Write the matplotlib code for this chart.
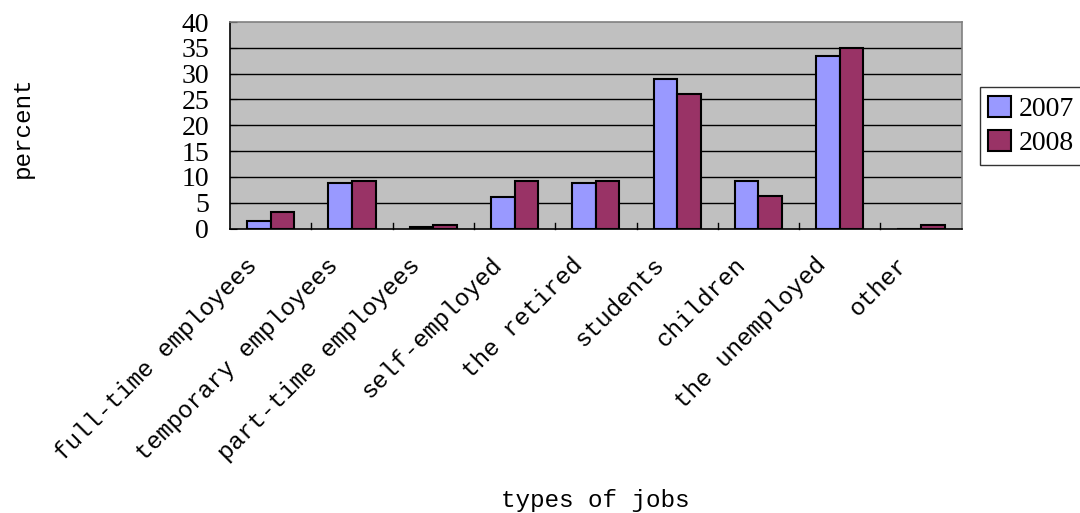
import matplotlib
matplotlib.use("Agg")
import matplotlib.pyplot as plt
import matplotlib.transforms as mtransforms
import numpy as np

categories = ["full-time employees", "temporary employees", "part-time employees",
              "self-employed", "the retired", "students", "children",
              "the unemployed", "other"]
values_2007 = [1.4, 8.9, 0.3, 6.1, 8.9, 28.9, 9.2, 33.5, 0.0]
values_2008 = [3.2, 9.2, 0.6, 9.2, 9.2, 26.1, 6.3, 35.0, 0.6]
series_labels = ["2007", "2008"]
yticks = [0, 5, 10, 15, 20, 25, 30, 35, 40]

fig = plt.figure(figsize=(10.8, 5.13), dpi=100)
ax = fig.add_axes([230/1080, 1-228.5/513, (961.7-230)/1080, (228.5-22)/513])
ax.set_facecolor("#C0C0C0")

x = np.arange(len(categories))
w = 0.29
ax.bar(x - w/2, values_2007, w, color="#9999FF", edgecolor="black", linewidth=1.5,
       label=series_labels[0], zorder=3)
ax.bar(x + w/2, values_2008, w, color="#993366", edgecolor="black", linewidth=1.5,
       label=series_labels[1], zorder=3)

ax.set_xlim(-0.5, len(categories) - 0.5)
ax.set_ylim(0, 40)
ax.set_yticks(yticks)
ax.set_yticklabels([str(v) for v in yticks], family="Liberation Serif", fontsize=20)
for v in yticks[1:-1]:
    ax.axhline(v, color="black", linewidth=1.0, zorder=1)

ax.set_xticks(x)
ax.set_xticklabels(categories, rotation=45, ha="right", rotation_mode="anchor",
                   family="Liberation Mono", fontsize=17.5)
ax.tick_params(axis="x", length=0, pad=18)
ax.tick_params(axis="y", direction="in", length=5, pad=15)
shift = mtransforms.ScaledTranslation(-25/100, 0, fig.dpi_scale_trans)
for lab in ax.get_xticklabels():
    lab.set_transform(lab.get_transform() + shift)
for b in np.arange(0.5, len(categories) - 0.5, 1.0):
    ax.plot([b, b], [0, 1.0], color="black", linewidth=1.0, zorder=2, clip_on=False)

for s in ["top", "right"]:
    ax.spines[s].set_color("#808080")
    ax.spines[s].set_linewidth(1.2)
for s in ["left", "bottom"]:
    ax.spines[s].set_color("black")
    ax.spines[s].set_linewidth(1.2)

fig.text(595/1080, 1-500/513, "types of jobs", ha="center", va="center",
         family="Liberation Mono", fontsize=17.5)
fig.text(22/1080, 1-127/513, "percent", ha="center", va="center", rotation=90,
         family="Liberation Mono", fontsize=17.5)

leg = ax.legend(loc="center left", bbox_to_anchor=(980/1080, 1-126/513),
                bbox_transform=fig.transFigure, frameon=True, fancybox=False,
                prop={"family": "Liberation Serif", "size": 20},
                handlelength=0.8, handleheight=0.8, handletextpad=0.3,
                borderpad=0.3, labelspacing=0.3, borderaxespad=0)
leg.get_frame().set_edgecolor("black")
leg.get_frame().set_linewidth(1.0)

fig.savefig("out.png", dpi=100)
